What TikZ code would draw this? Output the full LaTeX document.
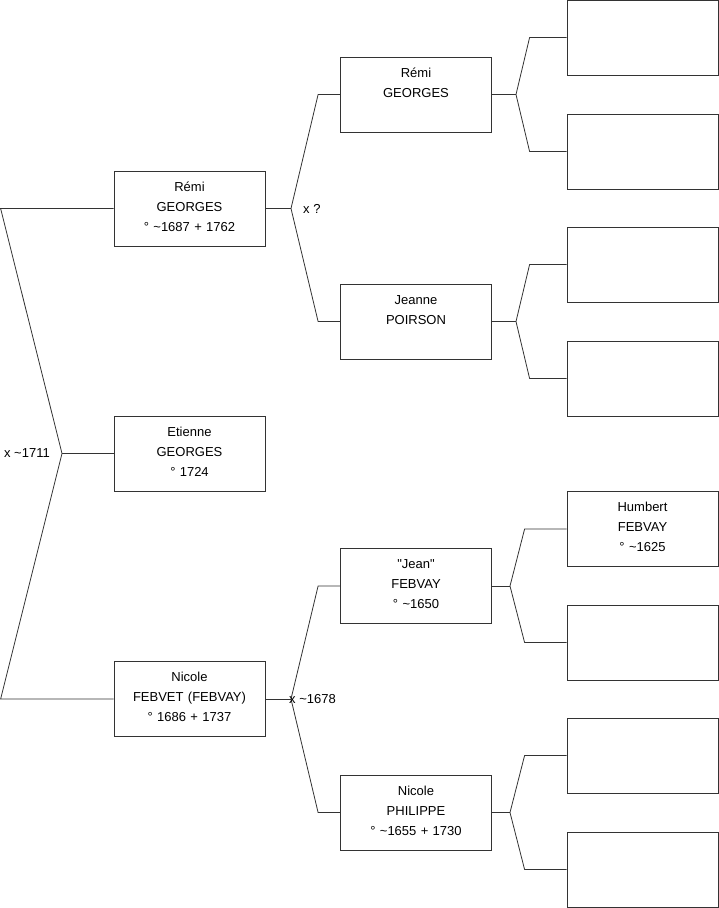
\documentclass[tikz,border=0pt]{standalone}
\usepackage{fontspec}
\setmainfont{Liberation Sans}
\usetikzlibrary{positioning}
\definecolor{treeline}{RGB}{51,51,51}
\tikzset{
    personbox/.style={draw=treeline, line width=0.8pt, text width=151pt, inner xsep=0pt, inner ysep=6pt, text height=14pt, text depth=49pt, align=center, font=\fontsize{13}{20}\selectfont},
    link/.style={draw=treeline, line width=0.8pt},
    marriage/.style={font=\fontsize{13}{20}\selectfont, inner sep=0pt}
}

\begin{document}
\begin{tikzpicture}[x=1pt,y=-1pt]
    \useasboundingbox (0,0) rectangle (719,908);
    % first generation
    \node[personbox] (remi1) at (189.5,208.5) {Rémi\\GEORGES\\° \textasciitilde1687 + 1762};
    \node[personbox] (etienne) at (189.5,453.5) {Etienne\\GEORGES\\° 1724};
    \node[personbox] (nicole1) at (189.5,699) {Nicole\\FEBVET (FEBVAY)\\° 1686 + 1737};
    % parents
    \node[personbox] (remi2) at (416,94.5) {Rémi\\GEORGES};
    \node[personbox] (jeanne) at (416,321.5) {Jeanne\\POIRSON};
    \node[personbox] (jean) at (416,586) {\textquotedbl Jean\textquotedbl\\FEBVAY\\° \textasciitilde1650};
    \node[personbox] (nicole2) at (416,812.5) {Nicole\\PHILIPPE\\° \textasciitilde1655 + 1730};
    % grandparents
    \node[personbox] (gp1) at (642.5,37.5) {};
    \node[personbox] (gp2) at (642.5,151.5) {};
    \node[personbox] (gp3) at (642.5,264.5) {};
    \node[personbox] (gp4) at (642.5,378.5) {};
    \node[personbox] (humbert) at (642.5,529) {Humbert\\FEBVAY\\° \textasciitilde1625};
    \node[personbox] (gp6) at (642.5,642.5) {};
    \node[personbox] (gp7) at (642.5,755.5) {};
    \node[personbox] (gp8) at (642.5,869.5) {};

    \coordinate (fk0) at (62,453.5);
    \coordinate (fk1) at (291,208.5);
    \coordinate (fk2) at (291,699);
    \coordinate (fk3) at (516,94.5);
    \coordinate (fk4) at (516,321.5);
    \coordinate (fk5) at (510,586);
    \coordinate (fk6) at (510,812.5);

    \draw[link] (etienne.west) -- (fk0);
    \draw[link] (fk0) -- ([xshift=-113pt]remi1.west) -- (remi1.west);
    \draw[link] (fk0) -- ([xshift=-113pt]nicole1.west) -- (nicole1.west);
    \node[marriage, left=12pt of fk0] (m0) {x \textasciitilde1711};

    \draw[link] (remi1.east) -- (fk1);
    \draw[link] (fk1) -- ([xshift=-22pt]remi2.west) -- (remi2.west);
    \draw[link] (fk1) -- ([xshift=-22pt]jeanne.west) -- (jeanne.west);
    \node[marriage, right=12pt of fk1] (m1) {x ?};

    \draw[link] (nicole1.east) -- (fk2);
    \draw[link] (fk2) -- ([xshift=-22pt]jean.west) -- (jean.west);
    \draw[link] (fk2) -- ([xshift=-22pt]nicole2.west) -- (nicole2.west);
    \node[marriage, right=-2pt of fk2] (m2) {x \textasciitilde1678};

    \draw[link] (remi2.east) -- (fk3);
    \draw[link] (fk3) -- ([xshift=-37pt]gp1.west) -- (gp1.west);
    \draw[link] (fk3) -- ([xshift=-37pt]gp2.west) -- (gp2.west);

    \draw[link] (jeanne.east) -- (fk4);
    \draw[link] (fk4) -- ([xshift=-37pt]gp3.west) -- (gp3.west);
    \draw[link] (fk4) -- ([xshift=-37pt]gp4.west) -- (gp4.west);

    \draw[link] (jean.east) -- (fk5);
    \draw[link] (fk5) -- ([xshift=-42pt]humbert.west) -- (humbert.west);
    \draw[link] (fk5) -- ([xshift=-42pt]gp6.west) -- (gp6.west);

    \draw[link] (nicole2.east) -- (fk6);
    \draw[link] (fk6) -- ([xshift=-42pt]gp7.west) -- (gp7.west);
    \draw[link] (fk6) -- ([xshift=-42pt]gp8.west) -- (gp8.west);
\end{tikzpicture}
\end{document}
